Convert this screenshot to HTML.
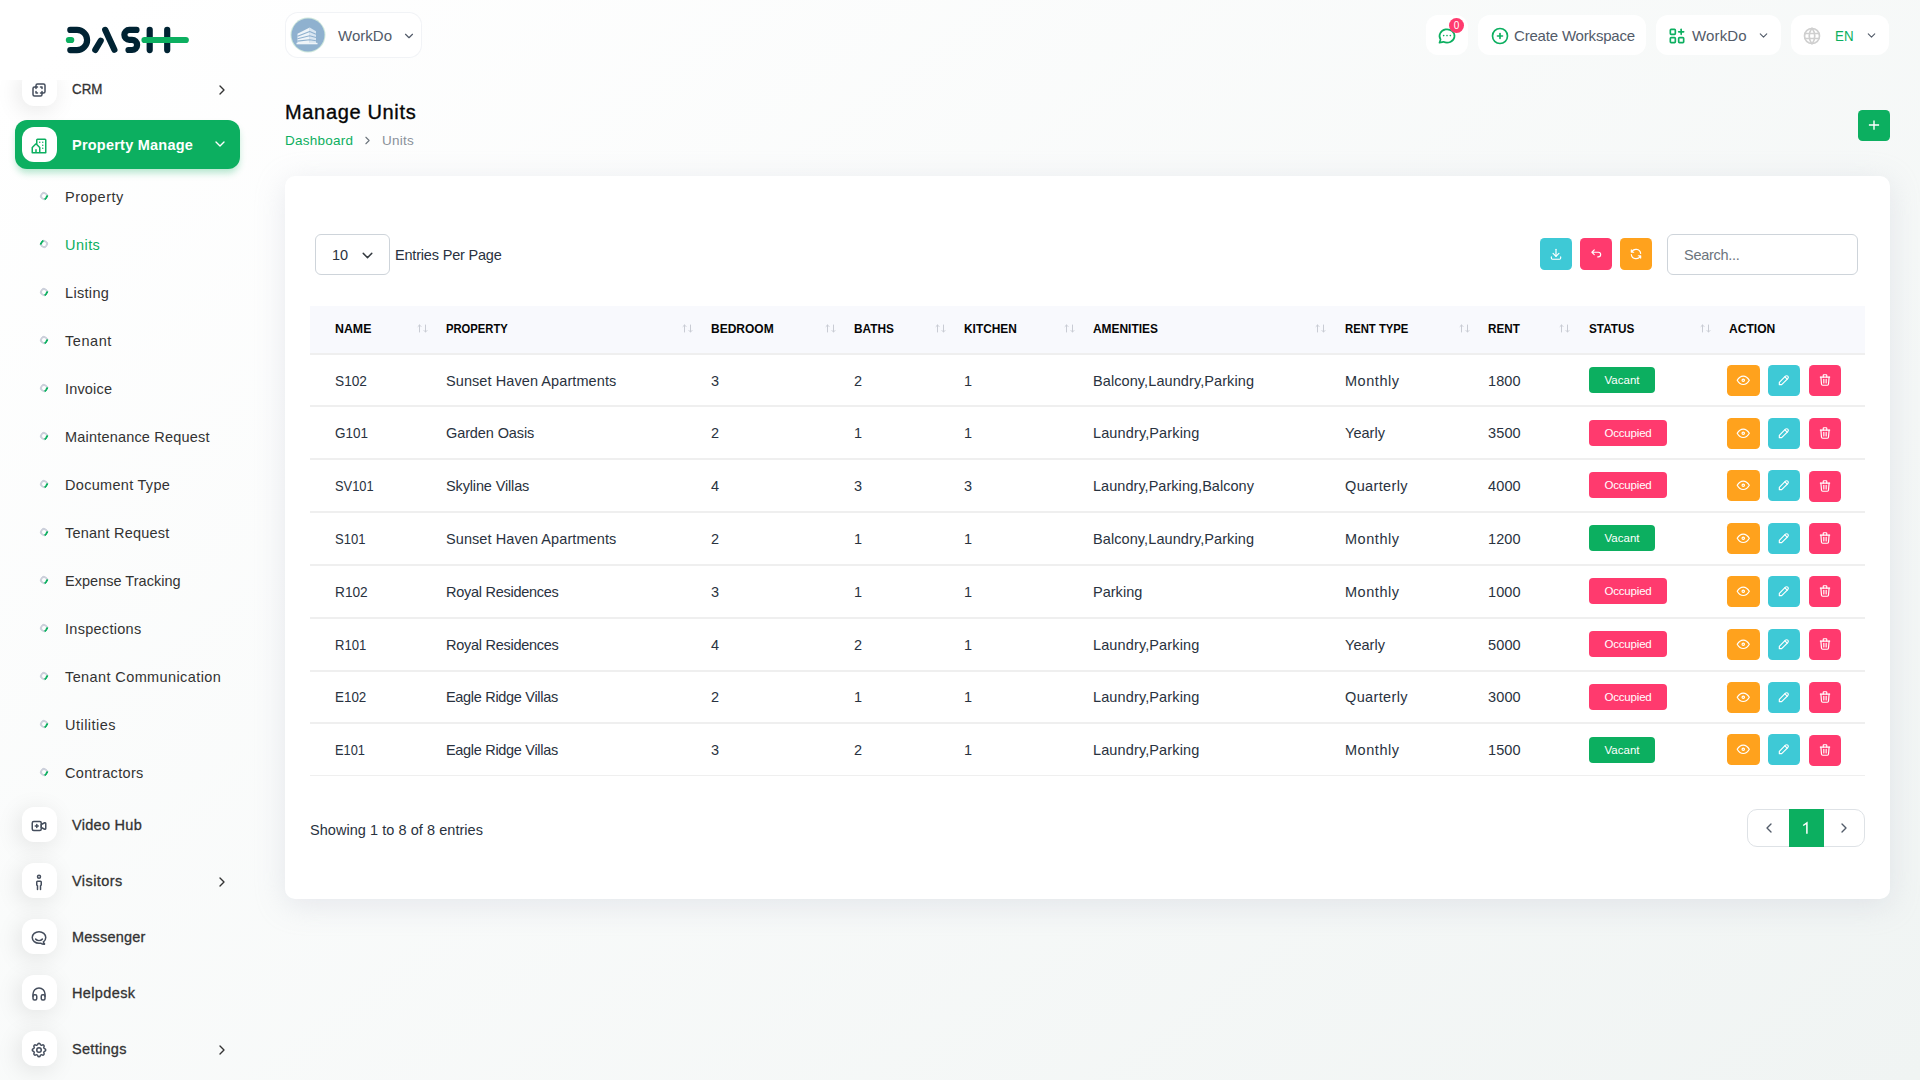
<!DOCTYPE html>
<html lang="en">
<head>
<meta charset="utf-8">
<title>Manage Units</title>
<style>
*{box-sizing:border-box;margin:0;padding:0}
html,body{width:1920px;height:1080px;overflow:hidden}
body{font-family:"Liberation Sans",sans-serif;color:#293240;font-size:14px;
 background:linear-gradient(141.55deg,rgba(240,244,243,0) 3.46%,#f0f4f3 99.86%),#fff;position:relative}
.abs{position:absolute}
svg{display:block}
.ic{fill:none;stroke:currentColor;stroke-width:2;stroke-linecap:round;stroke-linejoin:round}
/* sidebar */
#nav{position:absolute;left:0;top:80px;width:280px;height:1000px;overflow:hidden}
.mi{position:absolute;left:15px;width:225px;height:49px}
.mi .box{position:absolute;left:7px;top:7px;width:35px;height:35px;border-radius:12px;background:#fff;
 box-shadow:-3px 4px 23px rgba(0,0,0,.1);color:#454e5d}
.mi .box svg{position:absolute;left:8px;top:9.800px;width:18px;height:18px}
.mi .t{position:absolute;left:57px;top:1px;line-height:49px;font-size:14.5px;color:#333;white-space:nowrap;-webkit-text-stroke:.3px #333}
.mi .ar{position:absolute;left:198.5px;top:18px;width:16px;height:16px;color:#333}
.mi.act{background:#0caf60;border-radius:12px;box-shadow:0 5px 7px -1px rgba(12,175,96,.3)}
.mi.act .t{color:#fff;font-weight:bold;-webkit-text-stroke:0}
.mi.act .ar{color:#fff;left:196.900px;top:16.300px}
.mi.act .box{box-shadow:none;color:#0caf60}
.si{position:absolute;left:0;width:280px;height:48px}
.si i{position:absolute;left:40px;top:20px;width:8px;height:8px;border-radius:50%;border:2px solid #ccd0db;border-right-color:#0caf60;transform:rotate(35deg)}
.si.on i{transform:rotate(215deg)}
.si .t{position:absolute;left:65px;top:1px;line-height:48px;font-size:14.5px;color:#333;white-space:nowrap}
.si.on .t{color:#0caf60}
/* header */
.hb{position:absolute;top:15px;height:40px;background:#fff;border-radius:12px;color:#525b69;font-size:15px;line-height:40px;white-space:nowrap}
.hb .t{position:absolute;top:1px}
.grn{color:#0caf60}
/* card */
#card{position:absolute;left:285px;top:176px;width:1605px;height:723px;background:#fff;border-radius:10px;
 box-shadow:0 6px 30px rgba(182,186,203,.3)}
.sq{position:absolute;width:32px;height:32px;border-radius:4.500px;color:#fff}
.sq svg{position:absolute;left:9px;top:9.400px;width:14px;height:14px}
#thead{position:absolute;left:310px;top:306px;width:1555px;height:49px;background:#f8f9fd;border-bottom:2px solid #efefef}
.th{position:absolute;top:304.500px;line-height:47px;font-size:13px;font-weight:bold;color:#060606;white-space:nowrap}
.so{position:absolute;top:323px;width:12px;height:11px;color:#c9ccd4}
.row{position:absolute;left:310px;width:1555px;height:2px;background:#efefef}
.td{position:absolute;font-size:14.5px;line-height:20px;color:#293240;white-space:nowrap}
.bd{position:absolute;left:1589px;height:26px;border-radius:4px;color:#fff;font-size:11.5px;line-height:26px;text-align:center;white-space:nowrap}
.bd.v{width:66px;background:#0caf60}
.bd.o{width:78px;background:#ff3a6e}
.ab{position:absolute;width:32px;height:31px;border-radius:4.500px;color:#fff}
.ab svg{position:absolute;left:9px;top:8.100px;width:14px;height:14px}
.ab.c-w svg{left:9.250px;top:7.900px;width:14.500px;height:14.500px}
.c-w{background:#ffa21d}.c-i{background:#3ec9d6}.c-d{background:#ff3a6e}.c-s{background:#0caf60}
</style>
</head>
<body>
<svg class="abs" style="left:60px;top:20px" width="140" height="40" viewBox="0 0 140 40">
 <g fill="none" stroke="#002333" stroke-width="6.2" stroke-linecap="round" stroke-linejoin="round">
  <path d="M10.3 9.9H17a10.1 10.1 0 0 1 0 20.2H10.3"/>
  <path d="M35.3 29.9l5.4-9.2"/>
  <path d="M45.2 9.9l9.2 19.8"/>
  <path d="M76.5 9.9H69.3a4.9 4.9 0 0 0 0 9.900H72a5.100 5.100 0 0 1 0 10.200H68.500"/>
  <path d="M89.7 9.9v20.2"/>
  <path d="M107.2 9.9v20.2"/>
 </g>
 <g fill="none" stroke="#0caf60" stroke-width="6.2" stroke-linecap="round">
  <path d="M8.9 20h2.3"/>
  <path d="M84.5 20h41.3"/>
 </g>
</svg>
<div id="nav">
<div class="mi" style="top:-16px"><div class="box"><svg class="ic" viewBox="0 0 24 24"><path d="M16 16v2a2 2 0 0 1-2 2H6a2 2 0 0 1-2-2v-8a2 2 0 0 1 2-2h2V6a2 2 0 0 1 2-2h8a2 2 0 0 1 2 2v8a2 2 0 0 1-2 2h-2"/><path d="M10 8H8v2"/><path d="M8 14v2h2"/><path d="M14 8h2v2"/><path d="M16 14v2h-2"/></svg></div><span id="x0" class="t" style="transform:scaleX(0.9203);transform-origin:0 50%">CRM</span><svg class="ar ic" viewBox="0 0 24 24"><polyline points="9 6 15 12 9 18"/></svg></div>
<div class="mi act" style="top:40px"><div class="box"><svg class="ic" viewBox="0 0 24 24"><path d="M8 9l5 5v7H8v-4m0 4H3v-7l5-5m1 1V4a1 1 0 0 1 1-1h10a1 1 0 0 1 1 1v17h-8"/><path d="M13 7v.010"/><path d="M17 7v.010"/><path d="M17 11v.010"/><path d="M17 15v.010"/></svg></div><span id="x1" class="t" style="letter-spacing:0.231px">Property Manage</span><svg class="ar ic" viewBox="0 0 24 24"><polyline points="6 9 12 15 18 9"/></svg></div>
<div class="si" style="top:92px"><i></i><span id="x2" class="t" style="letter-spacing:0.492px">Property</span></div>
<div class="si on" style="top:140px"><i></i><span id="x3" class="t" style="letter-spacing:0.456px">Units</span></div>
<div class="si" style="top:188px"><i></i><span id="x4" class="t" style="letter-spacing:0.320px">Listing</span></div>
<div class="si" style="top:236px"><i></i><span id="x5" class="t" style="letter-spacing:0.573px">Tenant</span></div>
<div class="si" style="top:284px"><i></i><span id="x6" class="t" style="letter-spacing:0.176px">Invoice</span></div>
<div class="si" style="top:332px"><i></i><span id="x7" class="t" style="letter-spacing:0.190px">Maintenance Request</span></div>
<div class="si" style="top:380px"><i></i><span id="x8" class="t" style="letter-spacing:0.296px">Document Type</span></div>
<div class="si" style="top:428px"><i></i><span id="x9" class="t" style="letter-spacing:0.202px">Tenant Request</span></div>
<div class="si" style="top:476px"><i></i><span id="x10" class="t" style="letter-spacing:0.022px">Expense Tracking</span></div>
<div class="si" style="top:524px"><i></i><span id="x11" class="t" style="letter-spacing:0.280px">Inspections</span></div>
<div class="si" style="top:572px"><i></i><span id="x12" class="t" style="letter-spacing:0.394px">Tenant Communication</span></div>
<div class="si" style="top:620px"><i></i><span id="x13" class="t" style="letter-spacing:0.478px">Utilities</span></div>
<div class="si" style="top:668px"><i></i><span id="x14" class="t" style="letter-spacing:0.338px">Contractors</span></div>
<div class="mi" style="top:720px"><div class="box"><svg class="ic" viewBox="0 0 24 24"><path d="M15 10l4.553-2.276a1 1 0 0 1 1.447.894v6.764a1 1 0 0 1-1.447.894L15 14v-4z"/><rect x="3" y="6" width="12" height="12" rx="2"/><line x1="7" y1="12" x2="11" y2="12"/><line x1="9" y1="10" x2="9" y2="14"/></svg></div><span id="x15" class="t" style="letter-spacing:0.288px">Video Hub</span></div>
<div class="mi" style="top:776px"><div class="box"><svg class="ic" viewBox="0 0 24 24"><circle cx="12" cy="5" r="2"/><path d="M10 22v-5l-1-1v-4a1 1 0 0 1 1-1h4a1 1 0 0 1 1 1v4l-1 1v5"/></svg></div><span id="x16" class="t" style="letter-spacing:0.429px">Visitors</span><svg class="ar ic" viewBox="0 0 24 24"><polyline points="9 6 15 12 9 18"/></svg></div>
<div class="mi" style="top:832px"><div class="box"><svg class="ic" viewBox="0 0 24 24"><path d="M17.802 17.292s.077-.055.200-.149c1.843-1.425 3-3.490 3-5.789 0-4.286-4.030-7.764-9-7.764s-9 3.478-9 7.764c0 4.288 4.030 7.646 9 7.646.424 0 1.120-.028 2.088-.084 1.262.820 3.104 1.493 4.716 1.493.499 0 .734-.410.414-.828-.486-.596-1.156-1.551-1.416-2.290z"/><path d="M7.500 13.500c2.500 2.500 6.500 2.500 9 0"/></svg></div><span id="x17" class="t" style="letter-spacing:0.208px">Messenger</span></div>
<div class="mi" style="top:888px"><div class="box"><svg class="ic" viewBox="0 0 24 24"><rect x="4" y="13" rx="2" width="5" height="7"/><rect x="15" y="13" rx="2" width="5" height="7"/><path d="M4 15v-3a8 8 0 0 1 16 0v3"/></svg></div><span id="x18" class="t" style="letter-spacing:0.366px">Helpdesk</span></div>
<div class="mi" style="top:944px"><div class="box"><svg class="ic" viewBox="0 0 24 24"><path d="M10.325 4.317c.426-1.756 2.924-1.756 3.350 0a1.724 1.724 0 0 0 2.573 1.066c1.543-.940 3.310.826 2.370 2.370a1.724 1.724 0 0 0 1.065 2.572c1.756.426 1.756 2.924 0 3.350a1.724 1.724 0 0 0-1.066 2.573c.940 1.543-.826 3.310-2.370 2.370a1.724 1.724 0 0 0-2.572 1.065c-.426 1.756-2.924 1.756-3.350 0a1.724 1.724 0 0 0-2.573-1.066c-1.543.940-3.310-.826-2.370-2.370a1.724 1.724 0 0 0-1.065-2.572c-1.756-.426-1.756-2.924 0-3.350a1.724 1.724 0 0 0 1.066-2.573c-.940-1.543.826-3.310 2.370-2.370 1 .608 2.296.070 2.572-1.065z"/><circle cx="12" cy="12" r="3"/></svg></div><span id="x19" class="t" style="letter-spacing:0.293px">Settings</span><svg class="ar ic" viewBox="0 0 24 24"><polyline points="9 6 15 12 9 18"/></svg></div>
</div>
<div class="hb" style="left:286px;top:13px;width:135px;height:44px;line-height:44px;box-shadow:0 0 0 1px rgba(240,242,245,.9)">
 <svg class="abs" style="left:4px;top:4px" width="36" height="36" viewBox="0 0 36 36">
  <circle cx="18" cy="18" r="17.5" fill="#cfe8dc"/><circle cx="18" cy="18" r="16.5" fill="#8fb1cf"/>
  <g><path d="M7.500 26V16.800L19.700 10.600V26z" fill="#eef4f9"/><path d="M19.700 10.600l6.300 3.600V26h-6.300z" fill="#d9e6f1"/></g>
  <g stroke="#8fb1cf" stroke-width="1.100"><path d="M7.500 19.300l12.200-4.800M7.500 21.700l12.200-3M7.500 24.100l12.200-1.300M19.700 14.500l6.300 2.800M19.700 18.700l6.300 1.800M19.700 22.800l6.300 .9"/></g>
  <rect x="6.500" y="25.800" width="21" height="1.500" fill="#eef4f9"/>
 </svg>
 <span id="x20" class="t" style="left:52px;letter-spacing:0.017px">WorkDo</span>
 <svg class="abs ic" style="left:115.5px;top:15.5px" width="14" height="14" viewBox="0 0 24 24" stroke-width="2.300"><polyline points="6 9 12 15 18 9"/></svg>
</div>
<div class="hb" style="left:1426px;width:42px">
 <svg class="abs ic grn" style="left:11px;top:11px" width="20" height="20" viewBox="0 0 24 24"><path d="M3 20l1.300-3.900a9 8 0 1 1 3.400 2.900L3 20"/><line x1="8" y1="11.500" x2="8" y2="11.510"/><line x1="12" y1="11.500" x2="12" y2="11.510"/><line x1="16" y1="11.500" x2="16" y2="11.510"/></svg>
 <div class="abs" style="left:23px;top:2.750px;width:15px;height:15px;border-radius:50%;background:#ff3a6e;color:#fff;font-size:10px;line-height:15px;text-align:center">0</div>
</div>
<div class="hb" style="left:1478px;width:168px">
 <svg class="abs ic grn" style="left:11.500px;top:10.800px" width="20" height="20" viewBox="0 0 24 24"><circle cx="12" cy="12" r="9"/><line x1="9" y1="12" x2="15" y2="12"/><line x1="12" y1="9" x2="12" y2="15"/></svg>
 <span id="x21" class="t" style="left:36px;letter-spacing:-0.184px">Create Workspace</span>
</div>
<div class="hb" style="left:1656px;width:125px">
 <svg class="abs ic grn" style="left:11px;top:11px" width="20" height="20" viewBox="0 0 24 24"><rect x="4" y="4" width="6" height="6" rx="1"/><rect x="4" y="14" width="6" height="6" rx="1"/><rect x="14" y="14" width="6" height="6" rx="1"/><line x1="14" y1="7" x2="20" y2="7"/><line x1="17" y1="4" x2="17" y2="10"/></svg>
 <span id="x22" class="t" style="left:36px;letter-spacing:0.144px">WorkDo</span>
 <svg class="abs ic" style="left:100.5px;top:13.500px" width="13" height="13" viewBox="0 0 24 24" stroke-width="2.300"><polyline points="6 9 12 15 18 9"/></svg>
</div>
<div class="hb" style="left:1791px;width:98px">
 <svg class="abs ic" style="left:11px;top:11px;color:#cfcfcf" width="20" height="20" viewBox="0 0 24 24" stroke-width="1.6"><circle cx="12" cy="12" r="9"/><line x1="3.600" y1="9" x2="20.400" y2="9"/><line x1="3.600" y1="15" x2="20.400" y2="15"/><path d="M11.500 3a17 17 0 0 0 0 18"/><path d="M12.500 3a17 17 0 0 1 0 18"/></svg>
 <span id="x23" class="t grn" style="left:44px;transform:scaleX(0.8876);transform-origin:0 50%">EN</span>
 <svg class="abs ic" style="left:73.500px;top:13.500px" width="13" height="13" viewBox="0 0 24 24" stroke-width="2.300"><polyline points="6 9 12 15 18 9"/></svg>
</div>
<div id="x24" class="abs" style="left:285px;top:98px;font-size:20px;line-height:28px;color:#060606;white-space:nowrap;-webkit-text-stroke:.35px #060606;letter-spacing:0.660px">Manage Units</div>
<div id="x25" class="abs grn" style="left:285px;top:131.750px;font-size:13.5px;line-height:18px;white-space:nowrap;letter-spacing:0.230px">Dashboard</div>
<svg class="abs ic" style="left:360.500px;top:134px;color:#6c757d" width="13" height="13" viewBox="0 0 24 24" stroke-width="2.200"><polyline points="9 6 15 12 9 18"/></svg>
<div id="x26" class="abs" style="left:382px;top:131.750px;font-size:13.5px;line-height:18px;color:#8a919a;white-space:nowrap;letter-spacing:0.274px">Units</div>
<div class="sq c-s" style="left:1858px;top:110px;height:31px"><svg style="left:10px;top:9.100px;width:12px;height:12px" viewBox="0 0 12 12" fill="none" stroke="#fff" stroke-width="1.400"><path d="M6 1.400v9.300M0.900 6h10.200"/></svg></div>
<div id="card"></div>
<div class="abs" style="left:315px;top:234px;width:75px;height:41px;border:1px solid #ced4da;border-radius:6px;background:#fff"></div>
<div id="x27" class="abs" style="left:332px;top:245px;font-size:14.5px;line-height:20px;letter-spacing:-0.094px">10</div>
<svg class="abs ic" style="left:359.300px;top:246.500px;color:#343a40" width="17" height="17" viewBox="0 0 24 24" stroke-width="2.700"><polyline points="6 9 12 15 18 9"/></svg>
<div id="x28" class="abs" style="left:395px;top:245px;font-size:14.5px;line-height:20px;white-space:nowrap;letter-spacing:-0.189px">Entries Per Page</div>
<div class="sq c-i" style="left:1540px;top:238px"><svg class="ic" viewBox="0 0 24 24"><path d="M4 17v2a2 2 0 0 0 2 2h12a2 2 0 0 0 2-2v-2"/><polyline points="7 11 12 16 17 11"/><line x1="12" y1="4" x2="12" y2="16"/></svg></div>
<div class="sq c-d" style="left:1580px;top:238px"><svg class="ic" viewBox="0 0 24 24"><path d="M9 13L5 9l4-4M5 9h11a4 4 0 0 1 0 8h-1"/></svg></div>
<div class="sq c-w" style="left:1620px;top:238px"><svg class="ic" viewBox="0 0 24 24"><path d="M20 11A8.100 8.100 0 0 0 4.500 9M4 5v4h4"/><path d="M4 13a8.100 8.100 0 0 0 15.500 2m.500 4v-4h-4"/></svg></div>
<div class="abs" style="left:1667px;top:234px;width:191px;height:41px;border:1px solid #ced4da;border-radius:6px;background:#fff"></div>
<div id="x29" class="abs" style="left:1684px;top:245px;font-size:14.5px;line-height:20px;color:#6c757d;white-space:nowrap;letter-spacing:-0.286px">Search...</div>
<div id="thead"></div>
<div id="x30" class="th" style="left:335px;transform:scaleX(0.9509);transform-origin:0 50%">NAME</div>
<svg class="so" style="left:416.5px" viewBox="0 0 12 11" fill="none" stroke="currentColor" stroke-width="1" stroke-linecap="round" stroke-linejoin="round"><path d="M2.500 9V2M1 3.500L2.500 2 4 3.500"/><path d="M8.500 2v7M7 7.500L8.500 9 10 7.500"/></svg>
<div id="x31" class="th" style="left:446px;transform:scaleX(0.8641);transform-origin:0 50%">PROPERTY</div>
<svg class="so" style="left:681.5px" viewBox="0 0 12 11" fill="none" stroke="currentColor" stroke-width="1" stroke-linecap="round" stroke-linejoin="round"><path d="M2.500 9V2M1 3.500L2.500 2 4 3.500"/><path d="M8.500 2v7M7 7.500L8.500 9 10 7.500"/></svg>
<div id="x32" class="th" style="left:711px;transform:scaleX(0.9235);transform-origin:0 50%">BEDROOM</div>
<svg class="so" style="left:824.5px" viewBox="0 0 12 11" fill="none" stroke="currentColor" stroke-width="1" stroke-linecap="round" stroke-linejoin="round"><path d="M2.500 9V2M1 3.500L2.500 2 4 3.500"/><path d="M8.500 2v7M7 7.500L8.500 9 10 7.500"/></svg>
<div id="x33" class="th" style="left:854px;transform:scaleX(0.9107);transform-origin:0 50%">BATHS</div>
<svg class="so" style="left:934.5px" viewBox="0 0 12 11" fill="none" stroke="currentColor" stroke-width="1" stroke-linecap="round" stroke-linejoin="round"><path d="M2.500 9V2M1 3.500L2.500 2 4 3.500"/><path d="M8.500 2v7M7 7.500L8.500 9 10 7.500"/></svg>
<div id="x34" class="th" style="left:964px;transform:scaleX(0.9138);transform-origin:0 50%">KITCHEN</div>
<svg class="so" style="left:1063.5px" viewBox="0 0 12 11" fill="none" stroke="currentColor" stroke-width="1" stroke-linecap="round" stroke-linejoin="round"><path d="M2.500 9V2M1 3.500L2.500 2 4 3.500"/><path d="M8.500 2v7M7 7.500L8.500 9 10 7.500"/></svg>
<div id="x35" class="th" style="left:1093px;transform:scaleX(0.9167);transform-origin:0 50%">AMENITIES</div>
<svg class="so" style="left:1314.5px" viewBox="0 0 12 11" fill="none" stroke="currentColor" stroke-width="1" stroke-linecap="round" stroke-linejoin="round"><path d="M2.500 9V2M1 3.500L2.500 2 4 3.500"/><path d="M8.500 2v7M7 7.500L8.500 9 10 7.500"/></svg>
<div id="x36" class="th" style="left:1345px;transform:scaleX(0.8689);transform-origin:0 50%">RENT TYPE</div>
<svg class="so" style="left:1458.5px" viewBox="0 0 12 11" fill="none" stroke="currentColor" stroke-width="1" stroke-linecap="round" stroke-linejoin="round"><path d="M2.500 9V2M1 3.500L2.500 2 4 3.500"/><path d="M8.500 2v7M7 7.500L8.500 9 10 7.500"/></svg>
<div id="x37" class="th" style="left:1488px;transform:scaleX(0.8985);transform-origin:0 50%">RENT</div>
<svg class="so" style="left:1558.5px" viewBox="0 0 12 11" fill="none" stroke="currentColor" stroke-width="1" stroke-linecap="round" stroke-linejoin="round"><path d="M2.500 9V2M1 3.500L2.500 2 4 3.500"/><path d="M8.500 2v7M7 7.500L8.500 9 10 7.500"/></svg>
<div id="x38" class="th" style="left:1589px;transform:scaleX(0.9066);transform-origin:0 50%">STATUS</div>
<svg class="so" style="left:1699.5px" viewBox="0 0 12 11" fill="none" stroke="currentColor" stroke-width="1" stroke-linecap="round" stroke-linejoin="round"><path d="M2.500 9V2M1 3.500L2.500 2 4 3.500"/><path d="M8.500 2v7M7 7.500L8.500 9 10 7.500"/></svg>
<div id="x39" class="th" style="left:1729px;transform:scaleX(0.9289);transform-origin:0 50%">ACTION</div>
<div id="x40" class="td" style="left:335px;top:370.70px;transform:scaleX(0.9446);transform-origin:0 50%">S102</div>
<div id="x41" class="td" style="left:446px;top:370.70px;letter-spacing:0.081px">Sunset Haven Apartments</div>
<div id="x42" class="td" style="left:711px;top:370.70px">3</div>
<div id="x43" class="td" style="left:854px;top:370.70px">2</div>
<div id="x44" class="td" style="left:964px;top:370.70px">1</div>
<div id="x45" class="td" style="left:1093px;top:370.70px;letter-spacing:0.086px">Balcony,Laundry,Parking</div>
<div id="x46" class="td" style="left:1345px;top:370.70px;letter-spacing:0.541px">Monthly</div>
<div id="x47" class="td" style="left:1488px;top:370.70px;letter-spacing:0.067px">1800</div>
<div class="bd v" style="top:367px"><span id="x48" style="letter-spacing:0.009px">Vacant</span></div>
<div class="ab c-w" style="left:1727px;width:33px;top:365px"><svg class="ic" viewBox="0 0 24 24"><circle cx="12" cy="12" r="2"/><path d="M22 12c-2.667 4.667-6 7-10 7s-7.333-2.333-10-7c2.667-4.667 6-7 10-7s7.333 2.333 10 7"/></svg></div>
<div class="ab c-i" style="left:1768px;top:365px"><svg class="ic" viewBox="0 0 24 24"><path d="M4 20h4L18.500 9.500a1.500 1.500 0 0 0-4-4L4 16v4"/><line x1="13.500" y1="6.500" x2="17.500" y2="10.500"/></svg></div>
<div class="ab c-d" style="left:1809px;top:365px"><svg class="ic" viewBox="0 0 24 24"><line x1="4" y1="7" x2="20" y2="7"/><line x1="10" y1="11" x2="10" y2="17"/><line x1="14" y1="11" x2="14" y2="17"/><path d="M5 7l1 12a2 2 0 0 0 2 2h8a2 2 0 0 0 2-2l1-12"/><path d="M9 7V4a1 1 0 0 1 1-1h4a1 1 0 0 1 1 1v3"/></svg></div>
<div class="row" style="top:405px;height:2px"></div>
<div id="x49" class="td" style="left:335px;top:423.20px;transform:scaleX(0.9300);transform-origin:0 50%">G101</div>
<div id="x50" class="td" style="left:446px;top:423.20px;letter-spacing:-0.102px">Garden Oasis</div>
<div id="x51" class="td" style="left:711px;top:423.20px">2</div>
<div id="x52" class="td" style="left:854px;top:423.20px">1</div>
<div id="x53" class="td" style="left:964px;top:423.20px">1</div>
<div id="x54" class="td" style="left:1093px;top:423.20px;letter-spacing:0.122px">Laundry,Parking</div>
<div id="x55" class="td" style="left:1345px;top:423.20px;letter-spacing:0.040px">Yearly</div>
<div id="x56" class="td" style="left:1488px;top:423.20px;letter-spacing:0.124px">3500</div>
<div class="bd o" style="top:420px"><span id="x57" style="letter-spacing:-0.173px">Occupied</span></div>
<div class="ab c-w" style="left:1727px;width:33px;top:418px"><svg class="ic" viewBox="0 0 24 24"><circle cx="12" cy="12" r="2"/><path d="M22 12c-2.667 4.667-6 7-10 7s-7.333-2.333-10-7c2.667-4.667 6-7 10-7s7.333 2.333 10 7"/></svg></div>
<div class="ab c-i" style="left:1768px;top:418px"><svg class="ic" viewBox="0 0 24 24"><path d="M4 20h4L18.500 9.500a1.500 1.500 0 0 0-4-4L4 16v4"/><line x1="13.500" y1="6.500" x2="17.500" y2="10.500"/></svg></div>
<div class="ab c-d" style="left:1809px;top:418px"><svg class="ic" viewBox="0 0 24 24"><line x1="4" y1="7" x2="20" y2="7"/><line x1="10" y1="11" x2="10" y2="17"/><line x1="14" y1="11" x2="14" y2="17"/><path d="M5 7l1 12a2 2 0 0 0 2 2h8a2 2 0 0 0 2-2l1-12"/><path d="M9 7V4a1 1 0 0 1 1-1h4a1 1 0 0 1 1 1v3"/></svg></div>
<div class="row" style="top:458px;height:2px"></div>
<div id="x58" class="td" style="left:335px;top:476.20px;transform:scaleX(0.8887);transform-origin:0 50%">SV101</div>
<div id="x59" class="td" style="left:446px;top:476.20px;letter-spacing:-0.139px">Skyline Villas</div>
<div id="x60" class="td" style="left:711px;top:476.20px">4</div>
<div id="x61" class="td" style="left:854px;top:476.20px">3</div>
<div id="x62" class="td" style="left:964px;top:476.20px">3</div>
<div id="x63" class="td" style="left:1093px;top:476.20px;letter-spacing:0.038px">Laundry,Parking,Balcony</div>
<div id="x64" class="td" style="left:1345px;top:476.20px;letter-spacing:0.360px">Quarterly</div>
<div id="x65" class="td" style="left:1488px;top:476.20px;letter-spacing:0.124px">4000</div>
<div class="bd o" style="top:472px"><span id="x66" style="letter-spacing:-0.173px">Occupied</span></div>
<div class="ab c-w" style="left:1727px;width:33px;top:470px"><svg class="ic" viewBox="0 0 24 24"><circle cx="12" cy="12" r="2"/><path d="M22 12c-2.667 4.667-6 7-10 7s-7.333-2.333-10-7c2.667-4.667 6-7 10-7s7.333 2.333 10 7"/></svg></div>
<div class="ab c-i" style="left:1768px;top:470px"><svg class="ic" viewBox="0 0 24 24"><path d="M4 20h4L18.500 9.500a1.500 1.500 0 0 0-4-4L4 16v4"/><line x1="13.500" y1="6.500" x2="17.500" y2="10.500"/></svg></div>
<div class="ab c-d" style="left:1809px;top:471px"><svg class="ic" viewBox="0 0 24 24"><line x1="4" y1="7" x2="20" y2="7"/><line x1="10" y1="11" x2="10" y2="17"/><line x1="14" y1="11" x2="14" y2="17"/><path d="M5 7l1 12a2 2 0 0 0 2 2h8a2 2 0 0 0 2-2l1-12"/><path d="M9 7V4a1 1 0 0 1 1-1h4a1 1 0 0 1 1 1v3"/></svg></div>
<div class="row" style="top:511px;height:2px"></div>
<div id="x67" class="td" style="left:335px;top:529.20px;transform:scaleX(0.9004);transform-origin:0 50%">S101</div>
<div id="x68" class="td" style="left:446px;top:529.20px;letter-spacing:0.081px">Sunset Haven Apartments</div>
<div id="x69" class="td" style="left:711px;top:529.20px">2</div>
<div id="x70" class="td" style="left:854px;top:529.20px">1</div>
<div id="x71" class="td" style="left:964px;top:529.20px">1</div>
<div id="x72" class="td" style="left:1093px;top:529.20px;letter-spacing:0.086px">Balcony,Laundry,Parking</div>
<div id="x73" class="td" style="left:1345px;top:529.20px;letter-spacing:0.541px">Monthly</div>
<div id="x74" class="td" style="left:1488px;top:529.20px;letter-spacing:0.067px">1200</div>
<div class="bd v" style="top:525px"><span id="x75" style="letter-spacing:0.009px">Vacant</span></div>
<div class="ab c-w" style="left:1727px;width:33px;top:523px"><svg class="ic" viewBox="0 0 24 24"><circle cx="12" cy="12" r="2"/><path d="M22 12c-2.667 4.667-6 7-10 7s-7.333-2.333-10-7c2.667-4.667 6-7 10-7s7.333 2.333 10 7"/></svg></div>
<div class="ab c-i" style="left:1768px;top:523px"><svg class="ic" viewBox="0 0 24 24"><path d="M4 20h4L18.500 9.500a1.500 1.500 0 0 0-4-4L4 16v4"/><line x1="13.500" y1="6.500" x2="17.500" y2="10.500"/></svg></div>
<div class="ab c-d" style="left:1809px;top:523px"><svg class="ic" viewBox="0 0 24 24"><line x1="4" y1="7" x2="20" y2="7"/><line x1="10" y1="11" x2="10" y2="17"/><line x1="14" y1="11" x2="14" y2="17"/><path d="M5 7l1 12a2 2 0 0 0 2 2h8a2 2 0 0 0 2-2l1-12"/><path d="M9 7V4a1 1 0 0 1 1-1h4a1 1 0 0 1 1 1v3"/></svg></div>
<div class="row" style="top:564px;height:2px"></div>
<div id="x76" class="td" style="left:335px;top:582.20px;transform:scaleX(0.9431);transform-origin:0 50%">R102</div>
<div id="x77" class="td" style="left:446px;top:582.20px;letter-spacing:-0.269px">Royal Residences</div>
<div id="x78" class="td" style="left:711px;top:582.20px">3</div>
<div id="x79" class="td" style="left:854px;top:582.20px">1</div>
<div id="x80" class="td" style="left:964px;top:582.20px">1</div>
<div id="x81" class="td" style="left:1093px;top:582.20px;letter-spacing:0.020px">Parking</div>
<div id="x82" class="td" style="left:1345px;top:582.20px;letter-spacing:0.541px">Monthly</div>
<div id="x83" class="td" style="left:1488px;top:582.20px;letter-spacing:0.067px">1000</div>
<div class="bd o" style="top:578px"><span id="x84" style="letter-spacing:-0.173px">Occupied</span></div>
<div class="ab c-w" style="left:1727px;width:33px;top:576px"><svg class="ic" viewBox="0 0 24 24"><circle cx="12" cy="12" r="2"/><path d="M22 12c-2.667 4.667-6 7-10 7s-7.333-2.333-10-7c2.667-4.667 6-7 10-7s7.333 2.333 10 7"/></svg></div>
<div class="ab c-i" style="left:1768px;top:576px"><svg class="ic" viewBox="0 0 24 24"><path d="M4 20h4L18.500 9.500a1.500 1.500 0 0 0-4-4L4 16v4"/><line x1="13.500" y1="6.500" x2="17.500" y2="10.500"/></svg></div>
<div class="ab c-d" style="left:1809px;top:576px"><svg class="ic" viewBox="0 0 24 24"><line x1="4" y1="7" x2="20" y2="7"/><line x1="10" y1="11" x2="10" y2="17"/><line x1="14" y1="11" x2="14" y2="17"/><path d="M5 7l1 12a2 2 0 0 0 2 2h8a2 2 0 0 0 2-2l1-12"/><path d="M9 7V4a1 1 0 0 1 1-1h4a1 1 0 0 1 1 1v3"/></svg></div>
<div class="row" style="top:617px;height:2px"></div>
<div id="x85" class="td" style="left:335px;top:635.20px;transform:scaleX(0.9027);transform-origin:0 50%">R101</div>
<div id="x86" class="td" style="left:446px;top:635.20px;letter-spacing:-0.269px">Royal Residences</div>
<div id="x87" class="td" style="left:711px;top:635.20px">4</div>
<div id="x88" class="td" style="left:854px;top:635.20px">2</div>
<div id="x89" class="td" style="left:964px;top:635.20px">1</div>
<div id="x90" class="td" style="left:1093px;top:635.20px;letter-spacing:0.122px">Laundry,Parking</div>
<div id="x91" class="td" style="left:1345px;top:635.20px;letter-spacing:0.040px">Yearly</div>
<div id="x92" class="td" style="left:1488px;top:635.20px;letter-spacing:0.124px">5000</div>
<div class="bd o" style="top:631px"><span id="x93" style="letter-spacing:-0.173px">Occupied</span></div>
<div class="ab c-w" style="left:1727px;width:33px;top:629px"><svg class="ic" viewBox="0 0 24 24"><circle cx="12" cy="12" r="2"/><path d="M22 12c-2.667 4.667-6 7-10 7s-7.333-2.333-10-7c2.667-4.667 6-7 10-7s7.333 2.333 10 7"/></svg></div>
<div class="ab c-i" style="left:1768px;top:629px"><svg class="ic" viewBox="0 0 24 24"><path d="M4 20h4L18.500 9.500a1.500 1.500 0 0 0-4-4L4 16v4"/><line x1="13.500" y1="6.500" x2="17.500" y2="10.500"/></svg></div>
<div class="ab c-d" style="left:1809px;top:629px"><svg class="ic" viewBox="0 0 24 24"><line x1="4" y1="7" x2="20" y2="7"/><line x1="10" y1="11" x2="10" y2="17"/><line x1="14" y1="11" x2="14" y2="17"/><path d="M5 7l1 12a2 2 0 0 0 2 2h8a2 2 0 0 0 2-2l1-12"/><path d="M9 7V4a1 1 0 0 1 1-1h4a1 1 0 0 1 1 1v3"/></svg></div>
<div class="row" style="top:670px;height:2px"></div>
<div id="x94" class="td" style="left:335px;top:686.70px;transform:scaleX(0.9240);transform-origin:0 50%">E102</div>
<div id="x95" class="td" style="left:446px;top:686.70px;letter-spacing:-0.310px">Eagle Ridge Villas</div>
<div id="x96" class="td" style="left:711px;top:686.70px">2</div>
<div id="x97" class="td" style="left:854px;top:686.70px">1</div>
<div id="x98" class="td" style="left:964px;top:686.70px">1</div>
<div id="x99" class="td" style="left:1093px;top:686.70px;letter-spacing:0.122px">Laundry,Parking</div>
<div id="x100" class="td" style="left:1345px;top:686.70px;letter-spacing:0.360px">Quarterly</div>
<div id="x101" class="td" style="left:1488px;top:686.70px;letter-spacing:0.124px">3000</div>
<div class="bd o" style="top:684px"><span id="x102" style="letter-spacing:-0.173px">Occupied</span></div>
<div class="ab c-w" style="left:1727px;width:33px;top:682px"><svg class="ic" viewBox="0 0 24 24"><circle cx="12" cy="12" r="2"/><path d="M22 12c-2.667 4.667-6 7-10 7s-7.333-2.333-10-7c2.667-4.667 6-7 10-7s7.333 2.333 10 7"/></svg></div>
<div class="ab c-i" style="left:1768px;top:682px"><svg class="ic" viewBox="0 0 24 24"><path d="M4 20h4L18.500 9.500a1.500 1.500 0 0 0-4-4L4 16v4"/><line x1="13.500" y1="6.500" x2="17.500" y2="10.500"/></svg></div>
<div class="ab c-d" style="left:1809px;top:682px"><svg class="ic" viewBox="0 0 24 24"><line x1="4" y1="7" x2="20" y2="7"/><line x1="10" y1="11" x2="10" y2="17"/><line x1="14" y1="11" x2="14" y2="17"/><path d="M5 7l1 12a2 2 0 0 0 2 2h8a2 2 0 0 0 2-2l1-12"/><path d="M9 7V4a1 1 0 0 1 1-1h4a1 1 0 0 1 1 1v3"/></svg></div>
<div class="row" style="top:722px;height:2px"></div>
<div id="x103" class="td" style="left:335px;top:740.20px;transform:scaleX(0.8856);transform-origin:0 50%">E101</div>
<div id="x104" class="td" style="left:446px;top:740.20px;letter-spacing:-0.310px">Eagle Ridge Villas</div>
<div id="x105" class="td" style="left:711px;top:740.20px">3</div>
<div id="x106" class="td" style="left:854px;top:740.20px">2</div>
<div id="x107" class="td" style="left:964px;top:740.20px">1</div>
<div id="x108" class="td" style="left:1093px;top:740.20px;letter-spacing:0.122px">Laundry,Parking</div>
<div id="x109" class="td" style="left:1345px;top:740.20px;letter-spacing:0.541px">Monthly</div>
<div id="x110" class="td" style="left:1488px;top:740.20px;letter-spacing:0.067px">1500</div>
<div class="bd v" style="top:737px"><span id="x111" style="letter-spacing:0.009px">Vacant</span></div>
<div class="ab c-w" style="left:1727px;width:33px;top:734px"><svg class="ic" viewBox="0 0 24 24"><circle cx="12" cy="12" r="2"/><path d="M22 12c-2.667 4.667-6 7-10 7s-7.333-2.333-10-7c2.667-4.667 6-7 10-7s7.333 2.333 10 7"/></svg></div>
<div class="ab c-i" style="left:1768px;top:734px"><svg class="ic" viewBox="0 0 24 24"><path d="M4 20h4L18.500 9.500a1.500 1.500 0 0 0-4-4L4 16v4"/><line x1="13.500" y1="6.500" x2="17.500" y2="10.500"/></svg></div>
<div class="ab c-d" style="left:1809px;top:735px"><svg class="ic" viewBox="0 0 24 24"><line x1="4" y1="7" x2="20" y2="7"/><line x1="10" y1="11" x2="10" y2="17"/><line x1="14" y1="11" x2="14" y2="17"/><path d="M5 7l1 12a2 2 0 0 0 2 2h8a2 2 0 0 0 2-2l1-12"/><path d="M9 7V4a1 1 0 0 1 1-1h4a1 1 0 0 1 1 1v3"/></svg></div>
<div class="row" style="top:775px;height:1px"></div>
<div id="x112" class="abs" style="left:310px;top:820px;font-size:14.5px;line-height:20px;white-space:nowrap;letter-spacing:0.049px">Showing 1 to 8 of 8 entries</div>
<div class="abs" style="left:1747px;top:809px;width:118px;height:38px;border:1px solid #dee2e6;border-radius:10px;background:#fff"></div>
<div class="abs c-s" style="left:1789px;top:809px;width:35px;height:38px"><svg class="abs" style="left:13px;top:12px" width="8" height="14" viewBox="0 0 8 14" fill="none" stroke="#fff" stroke-width="1.500" stroke-linejoin="miter"><path d="M1.200 4.500L4.900 1.900V12.800"/></svg></div>
<svg class="abs ic" style="left:1760.500px;top:819.500px;color:#525b69" width="16" height="16" viewBox="0 0 24 24" stroke-width="1.900"><polyline points="15 6 9 12 15 18"/></svg>
<svg class="abs ic" style="left:1836px;top:819.500px;color:#525b69" width="16" height="16" viewBox="0 0 24 24" stroke-width="1.900"><polyline points="9 6 15 12 9 18"/></svg>
</body>
</html>
